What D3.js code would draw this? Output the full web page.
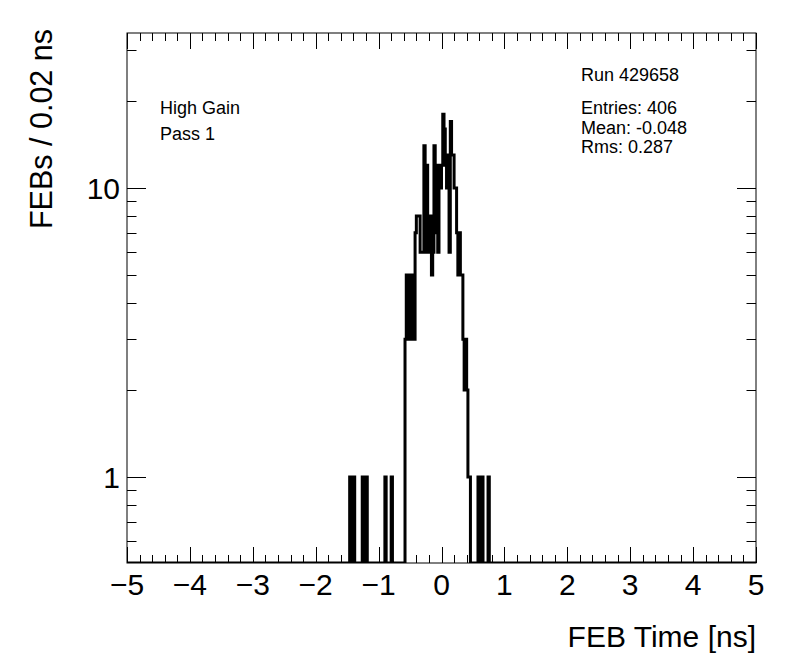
<!DOCTYPE html>
<html>
<head>
<meta charset="utf-8">
<script src="https://cdn.jsdelivr.net/npm/d3@7"></script>
<style>
  body { margin: 0; background: #fff; }
  text { font-family: "Liberation Sans", Arial, Helvetica, sans-serif; fill: #000; }
</style>
</head>
<body>
<div id="chart"></div>
<script>
// histogram binning
const xMin = -5;
const xMax = 5;
const binWidth = 0.02;

// lone entries (one FEB each) in the tails, lower bin edge in ns
const tailLeftEdges = [-1.46, -1.40, -1.26, -1.20, -0.90, -0.80];
const tailRightEdges = [0.58, 0.64, 0.74];

// contiguous core, starting at this lower edge
const coreStart = -0.58;
const coreCounts = [
  3, 5, 3, 5, 3, 5, 5, 3,
  7, 8, 8, 8, 6, 6, 6,
  14, 6, 12, 6, 7, 8, 5,
  6, 14, 7, 12, 6, 12, 10,
  12, 18, 16, 12, 10, 13, 6,
  17, 13, 13, 10, 10, 7, 5,
  7, 5, 5, 3, 2, 3, 2, 1, 1
];

// axis ticks and texts
const xMajorTicks = [-5, -4, -3, -2, -1, 0, 1, 2, 3, 4, 5];
const yMinorTicks = [0.6, 0.7, 0.8, 0.9, 2, 3, 4, 5, 6, 7, 8, 9, 20, 30];
const yMajorTicks = [1, 10];
const xTitle = "FEB Time [ns]";
const yTitle = "FEBs / 0.02 ns";
const leftLabels = ["High Gain", "Pass 1"];
const runLabel = "Run 429658";
const statsLabels = ["Entries: 406", "Mean: -0.048", "Rms: 0.287"];

const margin = {top: 33, right: 40, bottom: 109, left: 127};
const width = 796 - margin.left - margin.right;
const height = 672 - margin.top - margin.bottom;

const svg = d3.select("#chart").append("svg")
              .attr("width", 796)
              .attr("height", 672);

const chart = svg.append("g")
                 .attr("transform", `translate(${margin.left},${margin.top})`);

// fill all bins
const nBins = Math.round((xMax - xMin) / binWidth);
const counts = new Array(nBins).fill(0);
const binIndex = edge => Math.round((edge - xMin) / binWidth);
tailLeftEdges.forEach(e => { counts[binIndex(e)] += 1; });
tailRightEdges.forEach(e => { counts[binIndex(e)] += 1; });
coreCounts.forEach((c, i) => { counts[binIndex(coreStart) + i] += c; });

// scales
const x = d3.scaleLinear().domain([xMin, xMax]).range([0, width]);
const y = d3.scaleLog().domain([0.504, 34.4]).range([height, 0]);

// histogram outline, empty bins sit on the bottom of the frame
const pts = [];
counts.forEach((c, i) => {
  const lo = xMin + i * binWidth;
  const yy = c > 0 ? y(c) : height;
  pts.push([x(lo), yy], [x(lo + binWidth), yy]);
});

chart.append("defs").append("clipPath")
     .attr("id", "frame-clip")
     .append("rect")
       .attr("width", width)
       .attr("height", height);

chart.append("path")
     .datum(pts)
     .attr("clip-path", "url(#frame-clip)")
     .attr("fill", "none")
     .attr("stroke", "#000")
     .attr("stroke-width", 3)
     .attr("d", d3.line());

// frame
chart.append("rect")
     .attr("width", width)
     .attr("height", height)
     .attr("fill", "none")
     .attr("stroke", "#000")
     .attr("stroke-width", 1);

// x ticks, bottom and top
const xTicksAll = d3.range(0, 51).map(k => xMin + k * 0.2);
xTicksAll.forEach(v => {
  const major = xMajorTicks.some(m => Math.abs(m - v) < 1e-6);
  const len = major ? 16 : 8;
  const px = Math.round(x(v)) + 0.5;
  chart.append("line").attr("x1", px).attr("x2", px)
       .attr("y1", height).attr("y2", height - len)
       .attr("stroke", "#000");
  chart.append("line").attr("x1", px).attr("x2", px)
       .attr("y1", 0).attr("y2", len)
       .attr("stroke", "#000");
});

// y ticks, left and right
const yTick = (v, len) => {
  const py = Math.round(y(v)) + 0.5;
  chart.append("line").attr("x1", 0).attr("x2", len)
       .attr("y1", py).attr("y2", py).attr("stroke", "#000");
  chart.append("line").attr("x1", width).attr("x2", width - len)
       .attr("y1", py).attr("y2", py).attr("stroke", "#000");
};
yMinorTicks.forEach(v => yTick(v, 9.5));
yMajorTicks.forEach(v => yTick(v, 19));

// tick labels
chart.selectAll(".x-label")
     .data(xMajorTicks)
     .enter().append("text")
       .attr("class", "x-label")
       .attr("x", d => x(d))
       .attr("y", height + 32)
       .attr("text-anchor", "middle")
       .style("font-size", "30px")
       .text(d => d < 0 ? "\u2212" + Math.abs(d) : String(d));

chart.selectAll(".y-label")
     .data(yMajorTicks)
     .enter().append("text")
       .attr("class", "y-label")
       .attr("x", -7)
       .attr("y", d => y(d) + 11)
       .attr("text-anchor", "end")
       .style("font-size", "30px")
       .text(d => String(d));

// axis titles
svg.append("text")
   .attr("x", 756)
   .attr("y", 647)
   .attr("text-anchor", "end")
   .style("font-size", "30px")
   .text(xTitle);

svg.append("text")
   .attr("transform", "translate(52,29) rotate(-90)")
   .attr("text-anchor", "end")
   .style("font-size", "30.5px")
   .text(yTitle);

// labels inside the frame
svg.selectAll(".left-label")
   .data(leftLabels)
   .enter().append("text")
     .attr("x", 160)
     .attr("y", (d, i) => 114 + i * 26)
     .style("font-size", "18px")
     .text(d => d);

svg.append("text")
   .attr("x", 581)
   .attr("y", 81)
   .style("font-size", "18px")
   .text(runLabel);

svg.selectAll(".stats-label")
   .data(statsLabels)
   .enter().append("text")
     .attr("x", 581)
     .attr("y", (d, i) => 114 + i * 19.5)
     .style("font-size", "18px")
     .text(d => d);
</script>
</body>
</html>
